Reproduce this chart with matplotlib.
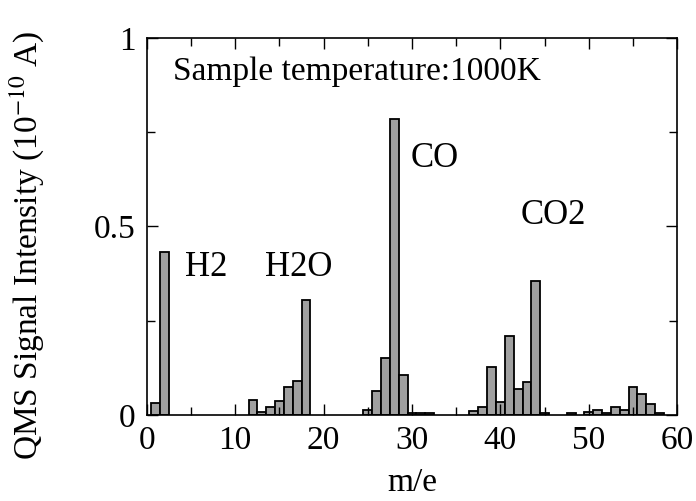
import numpy as np
import matplotlib
matplotlib.use("Agg")
import matplotlib.pyplot as plt
from matplotlib.ticker import MultipleLocator

plt.rcParams['font.family'] = ['Liberation Serif', 'DejaVu Serif']
plt.rcParams['mathtext.fontset'] = 'stix'

# m/e values and QMS signal (10^-10 A)
mass = [1, 2, 12, 13, 14, 15, 16, 17, 18,
        25, 26, 27, 28, 29, 30, 31, 32,
        37, 38, 39, 40, 41, 42, 43, 44, 45,
        48, 50, 51, 52, 53, 54, 55, 56, 57, 58]
signal = [0.032, 0.433, 0.040, 0.008, 0.021, 0.037, 0.074, 0.090, 0.305,
          0.013, 0.064, 0.151, 0.785, 0.106, 0.006, 0.004, 0.004,
          0.009, 0.021, 0.127, 0.035, 0.208, 0.069, 0.088, 0.355, 0.006,
          0.004, 0.008, 0.013, 0.004, 0.020, 0.013, 0.074, 0.056, 0.029, 0.005]

peak_labels = ["H2", "H2O", "CO", "CO2"]
peak_x = [4.3, 13.4, 29.8, 42.3]
peak_y = [0.39, 0.39, 0.68, 0.53]

fig = plt.figure(figsize=(6.96, 5.01), dpi=100)
ax = fig.add_axes([0.211, 0.172, 0.762, 0.752])

ax.bar(mass, signal, width=1.0, color="#a0a0a0", edgecolor="black", linewidth=1.3)

for lab, x, y in zip(peak_labels, peak_x, peak_y):
    ax.text(x, y, lab, fontsize=25, ha="left", va="center")

ax.text(0.05, 0.91, "Sample temperature:1000K", transform=ax.transAxes,
        fontsize=24, ha="left", va="center")

ax.set_xlim(0, 60)
ax.set_ylim(0, 1)
ax.xaxis.set_major_locator(MultipleLocator(10))
ax.xaxis.set_minor_locator(MultipleLocator(5))
ax.yaxis.set_minor_locator(MultipleLocator(0.25))
ax.set_yticks([0, 0.5, 1])
ax.set_yticklabels(["0", "0.5", "1"])
ax.tick_params(which="both", direction="in", top=True, right=True, labelsize=24, pad=8)
ax.tick_params(which="major", length=8, width=1)
ax.tick_params(which="minor", length=6, width=1)
for s in ax.spines.values():
    s.set_linewidth(1.2)

ax.set_xlabel("m/e", fontsize=24)
ax.xaxis.set_label_coords(0.5, -0.14)
ax.set_ylabel(r"QMS Signal Intensity (10$^{-10}$ A)", fontsize=24)
ax.yaxis.set_label_coords(-0.19, 0.45)

fig.savefig("out.png", dpi=100)
